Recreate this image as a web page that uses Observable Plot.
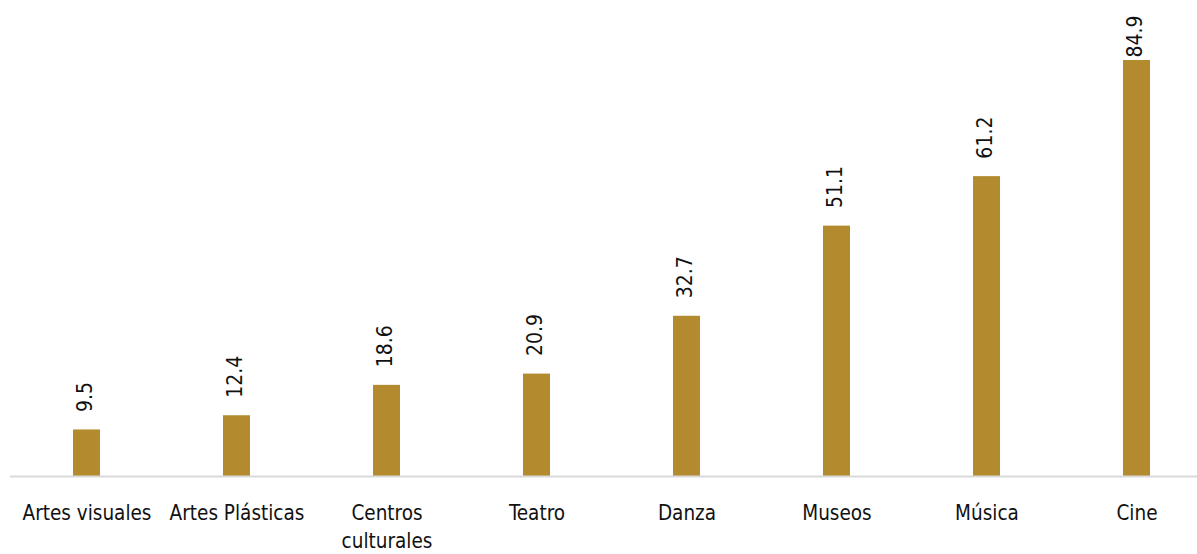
<!DOCTYPE html>
<html>
<head>
<meta charset="utf-8">
<script src="https://cdn.jsdelivr.net/npm/d3@7"></script>
<script src="https://cdn.jsdelivr.net/npm/@observablehq/plot@0.6"></script>
<style>
  html, body { margin: 0; padding: 0; background: #ffffff; }
  #chart svg { display: block; }
</style>
</head>
<body>
<div id="chart"></div>
<script>
const categories = ["Artes visuales", "Artes Plásticas", "Centros culturales", "Teatro", "Danza", "Museos", "Música", "Cine"];
const tickLabels = ["Artes visuales", "Artes Plásticas", "Centros\nculturales", "Teatro", "Danza", "Museos", "Música", "Cine"];
const values = [9.5, 12.4, 18.6, 20.9, 32.7, 51.1, 61.2, 84.9];

const data = categories.map((c, i) => ({category: c, value: values[i]}));
const labelOf = new Map(categories.map((c, i) => [c, tickLabels[i]]));
const maxValue = d3.max(values);

const labelStyle = {
  x: "category", y: "value",
  text: d => d3.format(".1f")(d.value),
  rotate: -90, textAnchor: "start", lineAnchor: "middle",
  dx: -2,
  fontSize: 21,
  fontFamily: "'DejaVu Sans Condensed', sans-serif",
  fill: "#111"
};

const chart = Plot.plot({
  width: 1197,
  height: 554,
  marginTop: 60,
  marginBottom: 78,
  marginLeft: 10,
  marginRight: 0,
  style: {background: "#ffffff", fontFamily: "'DejaVu Sans Condensed', sans-serif", color: "#111"},
  x: {domain: categories, range: [10, 1213], paddingInner: 0.817, paddingOuter: 0.4085, label: null},
  y: {domain: [0, 84.9], axis: null},
  marks: [
    Plot.barY(data, {x: "category", y: "value", fill: "#B38B2E"}),
    Plot.ruleY([0], {stroke: "#d9d9d9", strokeWidth: 2}),
    Plot.text(data.filter(d => d.value < maxValue), {...labelStyle, dy: -18}),
    Plot.text(data.filter(d => d.value === maxValue), {...labelStyle, dy: -3}),
    Plot.axisX({
      tickSize: 0, tickPadding: 24, fontSize: 20.5, label: null,
      lineHeight: 1.35,
      tickFormat: c => labelOf.get(c)
    })
  ]
});
document.getElementById("chart").appendChild(chart);
</script>
</body>
</html>
